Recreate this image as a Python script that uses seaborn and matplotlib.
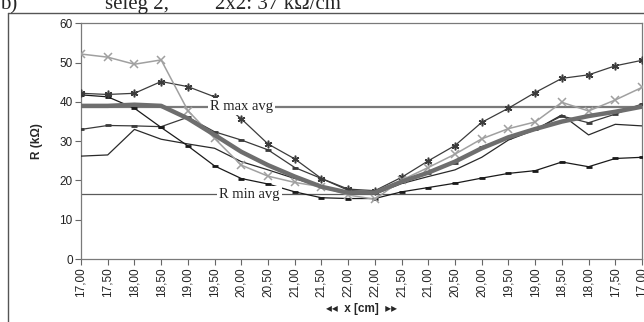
import numpy as np
import pandas as pd
import matplotlib
matplotlib.use("Agg")
import matplotlib.pyplot as plt
from matplotlib.lines import Line2D
import seaborn as sns

# ---- data ----
x_labels = ["17,00", "17,50", "18,00", "18,50", "19,00", "19,50", "20,00", "20,50",
            "21,00", "21,50", "22,00", "22,00", "21,50", "21,00", "20,50", "20,00",
            "19,50", "19,00", "18,50", "18,00", "17,50", "17,00"]
series_a = [52.2, 51.4, 49.6, 50.7, 37.8, 30.7, 23.9, 21.1, 19.5, 18.4, 16.3, 15.2,
            20.1, 23.3, 26.7, 30.6, 33.2, 34.9, 39.9, 37.7, 40.5, 43.7]
series_b = [42.2, 41.9, 42.2, 45.2, 43.9, 41.3, 35.7, 29.3, 25.5, 20.5, 17.8, 17.4,
            20.8, 25.0, 28.9, 34.8, 38.4, 42.4, 46.0, 46.9, 49.2, 50.6]
series_d = [41.8, 41.3, 38.4, 33.5, 28.8, 23.7, 20.5, 19.1, 17.1, 15.6, 15.4, 15.4,
            17.1, 18.2, 19.3, 20.6, 21.8, 22.5, 24.7, 23.5, 25.6, 25.9]
series_e = [33.0, 34.0, 33.9, 33.7, 36.1, 32.4, 30.3, 27.8, 23.3, 20.5, 17.5, 17.0,
            19.5, 22.0, 24.5, 28.6, 30.7, 33.0, 36.4, 34.7, 36.9, 39.5]
series_f = [26.2, 26.5, 33.0, 30.5, 29.3, 28.2, 24.8, 22.7, 20.5, 18.4, 16.5, 16.5,
            19.2, 21.0, 22.7, 25.9, 30.3, 32.9, 36.7, 31.6, 34.3, 33.9]
series_avg = [39.0, 39.0, 39.3, 39.0, 35.8, 31.6, 27.3, 23.9, 21.0, 18.4, 16.9, 16.9,
              19.7, 22.0, 24.8, 28.2, 31.0, 33.1, 35.0, 36.4, 37.5, 38.8]
r_max_avg = 38.8
r_min_avg = 16.5
y_ticks = [0, 10, 20, 30, 40, 50, 60]

sns.set_style("white")
plt.rcParams['font.family'] = ['Liberation Sans', 'DejaVu Sans']

fig = plt.figure(figsize=(6.44, 3.22), dpi=100)
ax = fig.add_axes([81/644, 63/322, (642-81)/644, (259-23.4)/322])

pos = np.arange(len(x_labels))
df = pd.DataFrame({"pos": pos, "A": series_a, "B": series_b, "D": series_d,
                   "E": series_e, "F": series_f, "AVG": series_avg})

# reference lines
ax.axhline(r_max_avg, color="#7a7a7a", lw=1.6, zorder=1)
ax.axhline(r_min_avg, color="#5a5a5a", lw=0.9, zorder=1)

sns.lineplot(data=df, x="pos", y="F", ax=ax, color="#2a2a2a", lw=0.9, zorder=3)
sns.lineplot(data=df, x="pos", y="E", ax=ax, color="#3a3a3a", lw=0.9, marker="_",
             markersize=5, markeredgewidth=2, markeredgecolor="#3a3a3a", zorder=3)
sns.lineplot(data=df, x="pos", y="D", ax=ax, color="#1a1a1a", lw=0.9, marker="_",
             markersize=4, markeredgewidth=2, markeredgecolor="#1a1a1a", zorder=3)
sns.lineplot(data=df, x="pos", y="B", ax=ax, color="#3c3c3c", lw=0.9, marker=(6, 2, 0),
             markersize=5.5, markeredgewidth=1.1, markeredgecolor="#3c3c3c", zorder=3)
sns.lineplot(data=df, x="pos", y="A", ax=ax, color="#a0a0a0", lw=1.1, marker="x",
             markersize=5.5, markeredgewidth=1.1, markeredgecolor="#a0a0a0", zorder=3)
sns.lineplot(data=df, x="pos", y="AVG", ax=ax, color="#6e6e6e", lw=3.2, zorder=4)

ax.text(6.0, r_max_avg, "R max avg", family="Liberation Serif", fontsize=10.5,
        ha="center", va="center", color="#222222", zorder=6,
        bbox=dict(facecolor="white", edgecolor="none", pad=1.5))
ax.text(6.3, r_min_avg, "R min avg", family="Liberation Serif", fontsize=10.5,
        ha="center", va="center", color="#222222", zorder=6,
        bbox=dict(facecolor="white", edgecolor="none", pad=1.5))

ax.set_xlim(0, len(x_labels) - 1)
ax.set_ylim(0, 60)
ax.set_xticks(pos)
ax.set_xticklabels(x_labels, rotation=90, fontsize=8.5, color="#222222")
ax.set_yticks(y_ticks)
ax.set_yticklabels([str(t) for t in y_ticks], fontsize=8.5, color="#222222")
ax.tick_params(axis="both", direction="out", length=4, width=0.8, color="#666666",
               bottom=True, left=True, pad=2)
for s in ax.spines.values():
    s.set_color("#7a7a7a")
    s.set_linewidth(0.9)
    s.set_visible(True)
ax.set_xlabel("◂◂  x [cm]  ▸▸", fontsize=8.5, fontweight="bold", labelpad=4)
ax.set_ylabel("R (kΩ)", fontsize=8.5, fontweight="bold", labelpad=12)

# outer chart frame
fig.add_artist(Line2D([8/644, 8/644], [0, 1 - 13/322], transform=fig.transFigure,
                      color="#555555", lw=1.0))
fig.add_artist(Line2D([8/644, 1], [1 - 13/322, 1 - 13/322], transform=fig.transFigure,
                      color="#555555", lw=1.0))

# cropped heading
fig.text(0/644, 1 - 9/322, "b)", family="Liberation Serif", fontsize=15, va="baseline")
fig.text(105/644, 1 - 9/322, "seleg 2,", family="Liberation Serif", fontsize=15, va="baseline")
fig.text(215/644, 1 - 9/322, "2x2: 37 kΩ/cm", family="Liberation Serif", fontsize=15, va="baseline")

fig.savefig("out.png", dpi=100)
